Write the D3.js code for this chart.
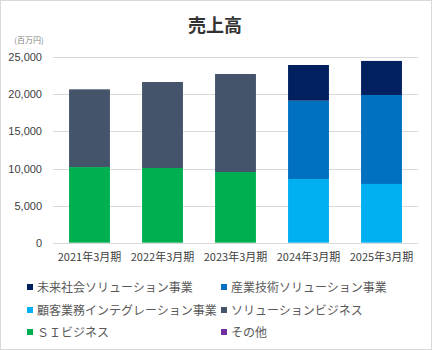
<!DOCTYPE html>
<html><head><meta charset="utf-8">
<script src="https://cdn.jsdelivr.net/npm/d3@7"></script>
<style>
html,body{margin:0;padding:0;background:#fff;}
svg{display:block;}
</style></head>
<body>
<svg id="chart" width="432" height="350"></svg>
<script>
const categories = ["2021年3月期","2022年3月期","2023年3月期","2024年3月期","2025年3月期"];
const seriesNames = ["未来社会ソリューション事業","産業技術ソリューション事業","顧客業務インテグレーション事業","ソリューションビジネス","ＳＩビジネス","その他"];
const seriesColors = ["#002060","#0070c0","#00b0f0","#44546a","#00b050","#7030a0"];
const futureSociety = [0,0,0,4810,4590];
const industrialTech = [0,0,0,10560,12000];
const customerBiz = [0,0,0,8590,7920];
const solutionBiz = [10480,11600,13220,0,0];
const siBiz = [10200,10070,9530,0,0];
const others = [0,0,0,0,0];
const yTicks = [0,5000,10000,15000,20000,25000];

const seriesValues = [futureSociety, industrialTech, customerBiz, solutionBiz, siBiz, others];
// stacking order bottom -> top
const stackOrder = [4,3,2,1,0,5];

const svg = d3.select("#chart");
svg.append("rect").attr("x",0.5).attr("y",0.5).attr("width",431).attr("height",349)
  .attr("fill","#fff").attr("stroke","#d9d9d9");

const cjk = "'Noto Sans CJK JP','Noto Sans',sans-serif";
const lat = "'Liberation Sans',Arial,sans-serif";

svg.append("text").attr("x",215).attr("y",32).attr("text-anchor","middle")
  .attr("font-family",cjk).attr("font-size",18).attr("font-weight","bold").attr("fill","#333")
  .text("売上高");
svg.append("text").attr("x",29).attr("y",43).attr("text-anchor","middle")
  .attr("font-family",cjk).attr("font-size",8).attr("fill","#7f7f7f").text("(百万円)");

const x = d3.scaleBand().domain(categories).range([53,418]).paddingInner(0.44).paddingOuter(0.22);
const y = d3.scaleLinear().domain([0,25000]).range([242.7,57.3]);

// gridlines
svg.append("g").selectAll("line").data(yTicks).join("line")
  .attr("x1",53).attr("x2",418).attr("y1",d=>Math.round(y(d))+0.5).attr("y2",d=>Math.round(y(d))+0.5)
  .attr("stroke","#d9d9d9").attr("stroke-width",1);

// y axis labels
const yAxis = d3.axisLeft(y).tickValues(yTicks).tickFormat(d3.format(",")).tickSize(0).tickPadding(0);
const ya = svg.append("g").attr("transform","translate(42,0)").call(yAxis);
ya.select(".domain").remove();
ya.selectAll("text").attr("font-family",lat).attr("font-size",11).attr("fill","#404040");

// bars
const rows = categories.map((c,i)=>{const o={cat:c}; seriesValues.forEach((s,k)=>o["s"+k]=s[i]); return o;});
const stack = d3.stack().keys(stackOrder.map(k=>"s"+k));
const stacked = stack(rows);
svg.append("g").selectAll("g").data(stacked).join("g")
  .attr("fill",d=>seriesColors[+d.key.slice(1)])
  .selectAll("rect").data(d=>d).join("rect")
  .attr("x",d=>x(d.data.cat)).attr("width",x.bandwidth())
  .attr("y",d=>y(d[1])).attr("height",d=>Math.max(0,y(d[0])-y(d[1])));

// x axis
const xAxis = d3.axisBottom(x).tickSize(0).tickPadding(11);
const xa = svg.append("g").attr("transform","translate(0,"+y(0)+")").call(xAxis);
xa.select(".domain").remove();
xa.selectAll("text").attr("font-family",cjk).attr("font-size",11).attr("fill","#404040");

// legend
const legPos = [[27,287],[221,287],[27,310],[221,310],[27,332],[221,332]];
const leg = svg.append("g").selectAll("g").data(seriesNames).join("g")
  .attr("transform",(d,i)=>"translate("+legPos[i][0]+","+legPos[i][1]+")");
leg.append("rect").attr("x",0).attr("y",-3).attr("width",6).attr("height",6).attr("fill",(d,i)=>seriesColors[i]);
leg.append("text").attr("x",10).attr("y",4.5).attr("font-family",cjk).attr("font-size",12).attr("fill","#595959").text(d=>d);
</script>
</body></html>
